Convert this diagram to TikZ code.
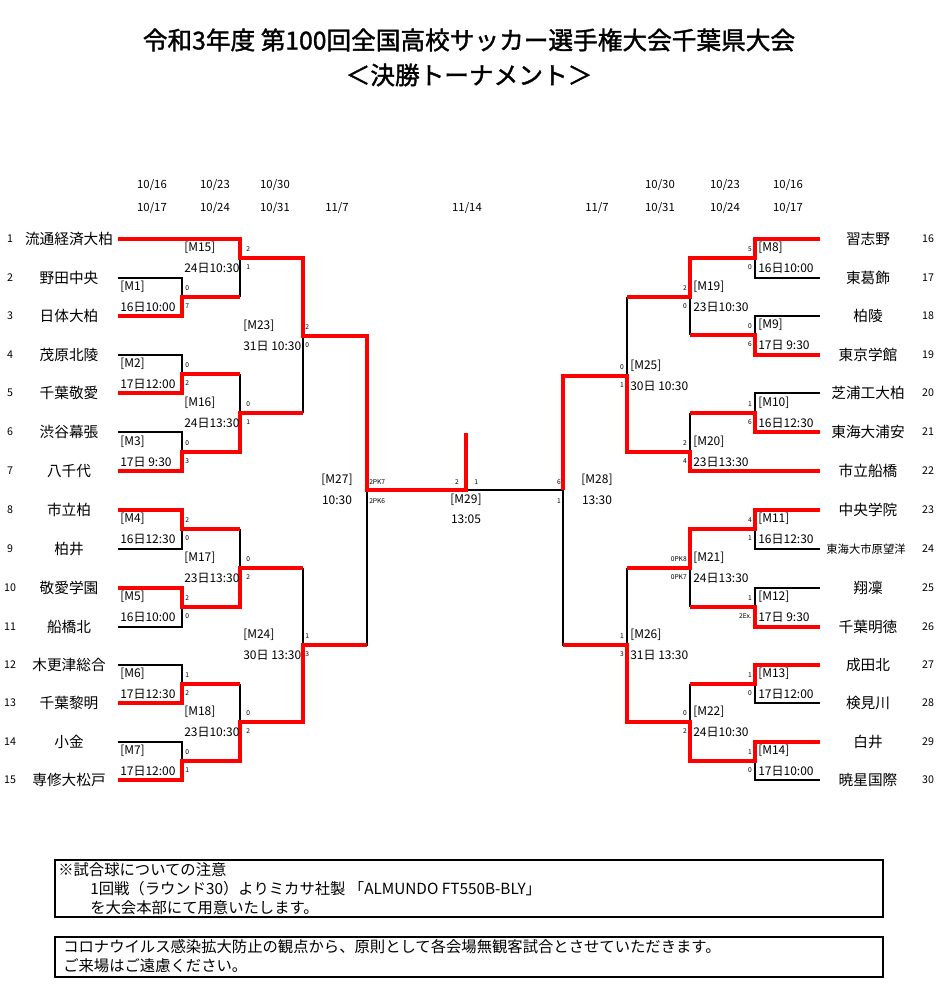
\documentclass[tikz,border=0pt]{standalone}
\usepackage{fontspec}
\setmainfont{Noto Sans CJK JP}
\newfontfamily\ttlfont{Noto Sans CJK JP}[FakeBold=1.5]
\newlength{\du}
\setlength{\du}{0.75pt}
\definecolor{wincolor}{rgb}{1.000000, 0.000000, 0.000000}
\tikzset{
  line/.style={draw=black, line width=1.2\du},
  win/.style={draw=wincolor, line width=4\du, line join=miter},
  team/.style={font=\fontsize{11}{13}\selectfont, inner sep=0pt},
  num/.style={font=\fontsize{8}{10}\selectfont, inner sep=0pt},
  score/.style={font=\fontsize{5}{6}\selectfont, inner sep=0pt},
  lbl/.style={font=\fontsize{9}{11}\selectfont, inner sep=0pt, anchor=west},
  day/.style={font=\fontsize{8.5}{10}\selectfont, inner sep=0pt},
  note/.style={font=\fontsize{11.5}{13}\selectfont, inner sep=0pt, anchor=west},
}

\begin{document}
\begin{tikzpicture}[x=\du,y=-\du]
\useasboundingbox (0,0) rectangle (938,999);
% title
\node[font=\ttlfont\fontsize{18.5}{22}\selectfont] (title1) at (469,40){令和3年度 第100回全国高校サッカー選手権大会千葉県大会};
\node[font=\ttlfont\fontsize{18.5}{22}\selectfont] (title2) at (469,75){＜決勝トーナメント＞};
% dates
\foreach \x/\a/\b in {152/10\slash16/10\slash17, 215/10\slash23/10\slash24, 275/10\slash30/10\slash31,
                      660/10\slash30/10\slash31, 725/10\slash23/10\slash24, 788/10\slash16/10\slash17}{
  \node[day] at (\x,185){\a};
  \node[day] at (\x,208){\b};
}
\node[day] (d7l) at (337,208){11/7};
\node[day] (d14) at (467,208){11/14};
\node[day] (d7r) at (597,208){11/7};
% teams
\foreach \n/\name/\y in {1/流通経済大柏/239, 2/野田中央/278, 3/日体大柏/316, 4/茂原北陵/355, 5/千葉敬愛/393,
    6/渋谷幕張/432, 7/八千代/471, 8/市立柏/510, 9/柏井/549, 10/敬愛学園/588, 11/船橋北/627,
    12/木更津総合/665, 13/千葉黎明/703, 14/小金/742, 15/専修大松戸/780}{
  \node[num] (n\n) at (10,\y){\n};
  \node[team] (t\n) at (69,\y){\name};
}
\foreach \n/\name/\y in {16/習志野/239, 17/東葛飾/278, 18/柏陵/316, 19/東京学館/355, 20/芝浦工大柏/393,
    21/東海大浦安/432, 22/市立船橋/471, 23/中央学院/510, 25/翔凜/588, 26/千葉明徳/627,
    27/成田北/665, 28/検見川/703, 29/白井/742, 30/暁星国際/780}{
  \node[num] (n\n) at (928,\y){\n};
  \node[team] (t\n) at (868,\y){\name};
}
\node[num] (n24) at (928,549){24};
\node[team, font=\fontsize{8.5}{10}\selectfont] (t24) at (866,549){東海大市原望洋};
% bracket, left
\draw[line] (118,239)--(240,239);
\foreach \a/\b in {278/316, 355/393, 432/471, 510/549, 588/627, 665/703, 742/780}{
  \draw[line] (118,\a)--(182,\a)--(182,\b)--(118,\b);
}
\foreach \m in {297,374,452,529,607,684,761}{ \draw[line] (182,\m)--(240,\m); }
\foreach \a/\b in {239/297, 374/452, 529/607, 684/761}{ \draw[line] (240,\a)--(240,\b); }
\foreach \m in {258,413,568,722}{ \draw[line] (240,\m)--(303,\m); }
\draw[line] (303,258)--(303,413);
\draw[line] (303,568)--(303,722);
\draw[line] (303,336)--(367,336)--(367,645)--(303,645);
\draw[line] (367,490)--(563,490);
% bracket, right
\draw[line] (820,471)--(690,471);
\foreach \a/\b in {239/278, 316/355, 393/432, 510/549, 588/627, 665/703, 742/780}{
  \draw[line] (820,\a)--(755,\a)--(755,\b)--(820,\b);
}
\foreach \m in {258,335,413,529,607,684,761}{ \draw[line] (755,\m)--(690,\m); }
\foreach \a/\b in {258/335, 413/471, 529/607, 684/761}{ \draw[line] (690,\a)--(690,\b); }
\foreach \m in {297,452,568,722}{ \draw[line] (690,\m)--(627,\m); }
\draw[line] (627,297)--(627,452);
\draw[line] (627,568)--(627,722);
\draw[line] (627,376)--(563,376)--(563,645)--(627,645);
% winners
\draw[win] (118,239)--(240,239)--(240,258)--(303,258)--(303,336)--(367,336)--(367,490)--(466,490)--(466,433);
\draw[win] (118,316)--(182,316)--(182,297)--(240,297);
\draw[win] (118,393)--(182,393)--(182,374)--(240,374);
\draw[win] (118,471)--(182,471)--(182,452)--(240,452)--(240,413)--(303,413);
\draw[win] (118,510)--(182,510)--(182,529)--(240,529);
\draw[win] (118,588)--(182,588)--(182,607)--(240,607)--(240,568)--(303,568);
\draw[win] (118,703)--(182,703)--(182,684)--(240,684);
\draw[win] (118,780)--(182,780)--(182,761)--(240,761)--(240,722)--(303,722)--(303,645)--(367,645);
\draw[win] (820,239)--(755,239)--(755,258)--(690,258)--(690,297)--(627,297);
\draw[win] (820,355)--(755,355)--(755,335)--(690,335);
\draw[win] (820,432)--(755,432)--(755,413)--(690,413);
\draw[win] (820,471)--(690,471)--(690,452)--(627,452)--(627,376)--(563,376)--(563,490);
\draw[win] (820,510)--(755,510)--(755,529)--(690,529)--(690,568)--(627,568);
\draw[win] (820,627)--(755,627)--(755,607)--(690,607);
\draw[win] (820,665)--(755,665)--(755,684)--(690,684);
\draw[win] (820,742)--(755,742)--(755,761)--(690,761)--(690,722)--(627,722)--(627,645)--(563,645);
% match labels, left
\foreach \x/\m/\id/\tm/\s/\t in {120/297/M1/16日10:00/0/7, 120/374/M2/17日12:00/0/2, 120/452/M3/17日 9:30/0/3,
    120/529/M4/16日12:30/2/0, 120/607/M5/16日10:00/2/0, 120/684/M6/17日12:30/1/2, 120/761/M7/17日12:00/0/1}{
  \node[lbl] at (\x,\m-10){[\id]};
  \node[lbl] at (\x,\m+10){\tm};
  \node[score, anchor=west] at (185,\m-9){\s};
  \node[score, anchor=west] at (185,\m+9){\t};
}
\foreach \x/\m/\id/\tm/\s/\t in {184/258/M15/24日10:30/2/1, 184/413/M16/24日13:30/0/1,
    184/568/M17/23日13:30/0/2, 184/722/M18/23日10:30/0/2, 243/336/M23/31日 10:30/2/0, 243/645/M24/30日 13:30/1/3}{
  \node[lbl] at (\x,\m-10){[\id]};
  \node[lbl] at (\x,\m+10){\tm};
  \node[score, anchor=west] at (\x+62,\m-9){\s};
  \node[score, anchor=west] at (\x+62,\m+9){\t};
}
% match labels, right
\foreach \x/\m/\id/\tm/\s/\t in {755/258/M8/16日10:00/5/0, 755/335/M9/17日 9:30/0/6, 755/413/M10/16日12:30/1/6,
    755/529/M11/16日12:30/4/1, 755/607/M12/17日 9:30/1/2Ex., 755/684/M13/17日12:00/1/0, 755/761/M14/17日10:00/1/0,
    690/297/M19/23日10:30/2/0, 690/452/M20/23日13:30/2/4, 690/568/M21/24日13:30/0PK8/0PK7,
    690/722/M22/24日10:30/0/2, 627/376/M25/30日 10:30/0/1, 627/645/M26/31日 13:30/1/3}{
  \node[lbl] at (\x+3,\m-10){[\id]};
  \node[lbl] at (\x+3,\m+10){\tm};
  \node[score, anchor=east] at (\x-3,\m-9){\s};
  \node[score, anchor=east] at (\x-3,\m+9){\t};
}
% final rounds
\node[lbl, anchor=center] (m27) at (337,480){[M27]};
\node[lbl, anchor=center] (m27t) at (337,500){10:30};
\node[lbl, anchor=center] (m28) at (597,480){[M28]};
\node[lbl, anchor=center] (m28t) at (597,500){13:30};
\node[lbl, anchor=center] (m29) at (466,500){[M29]};
\node[lbl, anchor=center] (m29t) at (466,519){13:05};
\node[score, anchor=west] at (369,482){2PK7};
\node[score, anchor=west] at (369,501){2PK6};
\node[score, anchor=east] at (459,482){2};
\node[score, anchor=west] at (474,482){1};
\node[score, anchor=east] at (561,482){6};
\node[score, anchor=east] at (561,501){1};
% notes
\draw[line, line width=2\du] (55,860) rectangle (883,917);
\node[note] (note1) at (58,870){※試合球についての注意};
\node[note] (note2) at (90,889){1回戦（ラウンド30）よりミカサ社製 「ALMUNDO FT550B-BLY」};
\node[note] (note3) at (90,908){を大会本部にて用意いたします。};
\draw[line, line width=2\du] (55,937) rectangle (883,977);
\node[note] (note4) at (63,947){コロナウイルス感染拡大防止の観点から、原則として各会場無観客試合とさせていただきます。};
\node[note] (note5) at (63,966){ご来場はご遠慮ください。};
\end{tikzpicture}
\end{document}
